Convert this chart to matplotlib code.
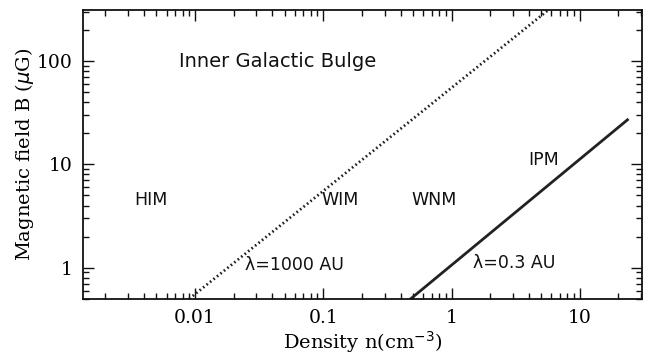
import matplotlib
matplotlib.use("Agg")
import matplotlib.pyplot as plt
from matplotlib.ticker import LogLocator, FixedLocator, FixedFormatter, NullFormatter

# Data
dotted_n = [0.009, 6.0]        # lambda = 1000 AU line
dotted_B = [0.5, 330.0]
solid_n = [0.48, 23.5]         # lambda = 0.3 AU line
solid_B = [0.5, 27.0]

xticks = [0.01, 0.1, 1, 10]
xticklabels = ["0.01", "0.1", "1", "10"]
yticks = [1, 10, 100]
yticklabels = ["1", "10", "100"]

region_labels = ["Inner Galactic Bulge", "HIM", "WIM", "WNM", "IPM",
                 "λ=1000 AU", "λ=0.3 AU"]
region_x = [0.044, 0.0045, 0.136, 0.73, 5.2, 0.06, 3.1]
region_y = [100, 4.5, 4.5, 4.5, 11.0, 1.06, 1.12]

fig = plt.figure(figsize=(6.5, 3.56), dpi=100)
ax = fig.add_axes([82.7 / 650, 1 - 299 / 356, (642 - 82.7) / 650, (299 - 10) / 356])

ax.set_xscale("log")
ax.set_yscale("log")
ax.set_xlim(0.00133, 30.5)
ax.set_ylim(0.498, 312)

ax.plot(dotted_n, dotted_B, color="#222222", lw=2.0, linestyle=(0, (0.6, 1.0)),
        solid_capstyle="butt")
ax.plot(solid_n, solid_B, color="#222222", lw=2.0)

for s, x, y in zip(region_labels, region_x, region_y):
    fs = 14 if s.startswith("Inner") else 12.5
    ax.text(x, y, s, ha="center", va="center", fontsize=fs,
            family="DejaVu Sans", color="#111111")

ax.xaxis.set_major_locator(FixedLocator(xticks))
ax.xaxis.set_major_formatter(FixedFormatter(xticklabels))
ax.yaxis.set_major_locator(FixedLocator(yticks))
ax.yaxis.set_major_formatter(FixedFormatter(yticklabels))
ax.xaxis.set_minor_locator(LogLocator(base=10, subs=range(2, 10), numticks=20))
ax.yaxis.set_minor_locator(LogLocator(base=10, subs=range(2, 10), numticks=20))
ax.xaxis.set_minor_formatter(NullFormatter())
ax.yaxis.set_minor_formatter(NullFormatter())

ax.tick_params(which="both", direction="in", top=True, right=True, width=1.0,
               color="#111111")
ax.tick_params(which="major", length=8, labelsize=13.5, pad=7)
ax.tick_params(which="minor", length=4)
for lab in ax.get_xticklabels() + ax.get_yticklabels():
    lab.set_family("DejaVu Serif")
for sp in ax.spines.values():
    sp.set_linewidth(1.3)
    sp.set_color("#111111")

ax.set_xlabel("Density n(cm$^{-3}$)", fontsize=14, family="DejaVu Serif", labelpad=2)
ax.set_ylabel("Magnetic field B ($\\mu$G)", fontsize=14, family="DejaVu Serif", labelpad=1)

fig.savefig("out.png", dpi=100)
